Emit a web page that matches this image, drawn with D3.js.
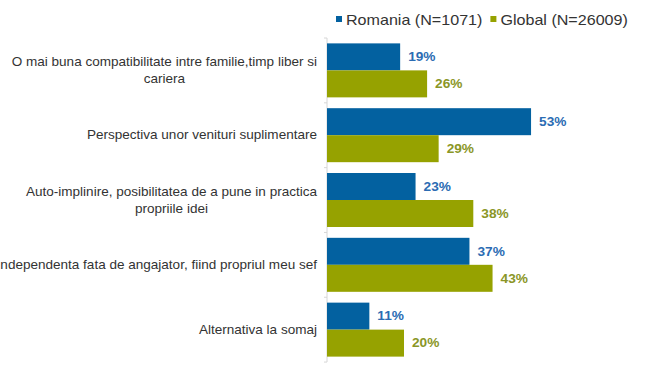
<!DOCTYPE html>
<html><head>
<meta charset="utf-8">
<script src="https://d3js.org/d3.v7.min.js"></script>
<style>
  body { margin: 0; background: #fff; }
  text { font-family: "Liberation Sans", Arial, sans-serif; }
</style>
</head>
<body>
<svg id="chart" width="665" height="370"></svg>
<script>
// categories, each split in the lines they are shown on
const categories = [
  ["O mai buna compatibilitate intre familie,timp liber si", "cariera"],
  ["Perspectiva unor venituri suplimentare"],
  ["Auto-implinire, posibilitatea de a pune in practica", "propriile idei"],
  ["Independenta fata de angajator, fiind propriul meu sef"],
  ["Alternativa la somaj"]
];
const seriesNames = ["Romania (N=1071)", "Global (N=26009)"];
const romania = [19, 53, 23, 37, 11];
const global = [26, 29, 38, 43, 20];

const barColors = ["#0361a0", "#96a200"];
const labelColors = ["#2b6cb3", "#8a9626"];

let svg = d3.select("svg#chart");
const axisX = 327;

// the source picture is a bit stretched sideways
function stretchedText(px, py, size, sx) {
  return svg.append("text")
    .attr("transform", "translate(" + px + "," + py + ") scale(" + sx + ",1)")
    .style("font-size", size + "px");
}

let keys = categories.map((c, i) => i);

let y = d3.scaleBand()
  .domain(keys)
  .range([38, 362])
  .paddingInner(0.167)
  .paddingOuter(0.083);

let ySub = d3.scaleBand()
  .domain([0, 1])
  .range([0, y.bandwidth()]);

let x = d3.scaleLinear()
  .domain([0, 60])
  .range([axisX, axisX + 231]);

// axis line + ticks between groups
svg.append("line")
  .attr("x1", axisX).attr("x2", axisX)
  .attr("y1", 38).attr("y2", 362)
  .style("stroke", "#d6d6d6")
  .style("stroke-width", 1);

for (let i = 0; i <= keys.length; i++) {
  let ty = 38 + i * y.step();
  svg.append("line")
    .attr("x1", axisX - 3).attr("x2", axisX)
    .attr("y1", ty).attr("y2", ty)
    .style("stroke", "#d6d6d6");
}

const series = [romania, global];

series.forEach((vals, s) => {
  vals.forEach((v, i) => {
    let by = y(i) + ySub(s);
    svg.append("rect")
      .attr("x", x(0))
      .attr("y", by)
      .attr("width", x(v) - x(0))
      .attr("height", ySub.bandwidth())
      .style("fill", barColors[s]);

    stretchedText(x(v) + 8, by + ySub.bandwidth() / 2, 12, 1.14)
      .attr("dy", "0.35em")
      .style("font-weight", "bold")
      .style("fill", labelColors[s])
      .text(v + "%");
  });
});

// category labels
const lsx = 1.11;
categories.forEach((lines, i) => {
  let cy = y(i) + y.bandwidth() / 2;
  let lh = 17;
  let texts = lines.map((ln, j) => stretchedText(317, cy + (j - (lines.length - 1) / 2) * lh, 12.2, lsx)
    .attr("dy", "0.35em")
    .attr("text-anchor", "end")
    .style("fill", "#333")
    .text(ln));
  if (lines.length > 1) {
    let maxW = d3.max(texts, t => t.node().getComputedTextLength()) * lsx;
    let cx = 317 - maxW / 2;
    texts.forEach((t, j) => t.attr("text-anchor", "middle")
      .attr("transform", "translate(" + cx + "," + (cy + (j - (lines.length - 1) / 2) * lh) + ") scale(" + lsx + ",1)"));
  }
});

// legend
let lx = 336;
seriesNames.forEach((name, s) => {
  svg.append("rect")
    .attr("x", lx).attr("y", 16)
    .attr("width", 6).attr("height", 6)
    .style("fill", barColors[s]);
  let t = stretchedText(lx + 10, 25, 14, 1.15)
    .style("fill", "#333")
    .text(name);
  lx += 10 + t.node().getComputedTextLength() * 1.15 + 8;
});
</script>
</body>
</html>
